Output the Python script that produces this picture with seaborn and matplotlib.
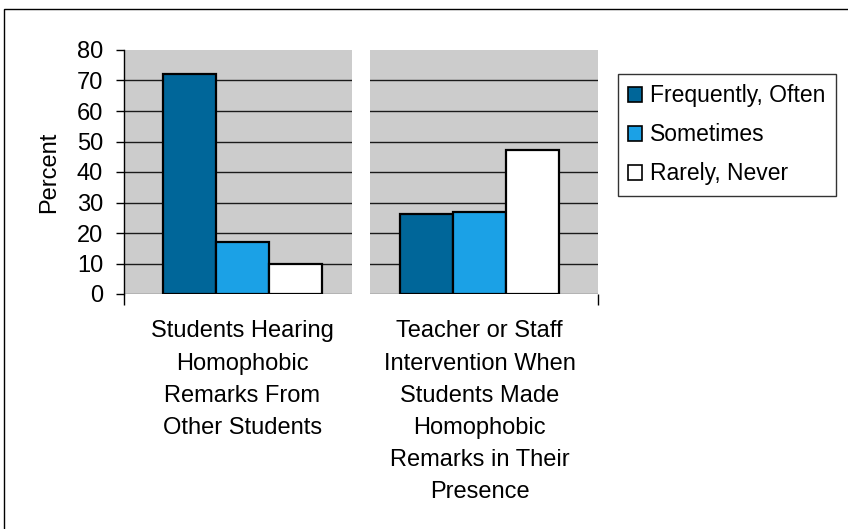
import matplotlib
matplotlib.use("Agg")
import matplotlib.pyplot as plt
from matplotlib.patches import Rectangle, Patch
import seaborn as sns
import pandas as pd

# Survey results (percent of students)
groups = [
    "Students Hearing\nHomophobic\nRemarks From\nOther Students",
    "Teacher or Staff\nIntervention When\nStudents Made\nHomophobic\nRemarks in Their\nPresence",
]
responses = ["Frequently, Often", "Sometimes", "Rarely, Never"]
hearing_remarks = [72, 17, 10]
staff_intervention = [26.2, 26.9, 47.2]
colors = ["#006699", "#1BA1E6", "#FFFFFF"]
yticks = [0, 10, 20, 30, 40, 50, 60, 70, 80]

rows = []
for grp, vals in zip(groups, [hearing_remarks, staff_intervention]):
    for resp, v in zip(responses, vals):
        rows.append({"group": grp, "response": resp, "pct": v})
df = pd.DataFrame(rows)

sns.set_theme(style="white")
plt.rcParams["font.family"] = ["Liberation Sans", "DejaVu Sans"]
plt.rcParams.update({
    "text.color": "black", "axes.labelcolor": "black",
    "xtick.color": "black", "ytick.color": "black",
})

FS = 17
W, H = 848, 529
fig = plt.figure(figsize=(W / 100, H / 100), dpi=100)
ax = fig.add_axes([124 / W, (H - 294) / H, (598 - 124) / W, (294 - 50) / H])
ax.set_facecolor("#CCCCCC")

sns.barplot(
    data=df, x="group", y="pct", hue="response", order=groups,
    hue_order=responses, palette=colors, saturation=1,
    edgecolor="black", linewidth=1.6, width=0.672, gap=0,
    ax=ax, legend=False, zorder=3,
)

ax.set_xlim(-0.5, 1.5)
ax.set_ylim(0, 80)
ax.set_yticks(yticks)

# horizontal gridlines (no line on the top edge)
for t in yticks[:-1]:
    ax.axhline(t, color="#555555" if t == 0 else "#1a1a1a", lw=1.0, zorder=0.5)
# white separator between the two category panels
ax.axvspan(0.5 - 0.036, 0.5 + 0.04, color="white", lw=0, zorder=0.8)

for s in ["top", "right", "bottom"]:
    ax.spines[s].set_visible(False)
ax.spines["left"].set_color("black")
ax.spines["left"].set_linewidth(1.0)

ax.tick_params(axis="y", which="major", direction="out", length=6, width=1,
               color="black", labelcolor="black", labelsize=FS, pad=9, left=True)
ax.tick_params(axis="x", which="major", length=0, labelsize=FS,
               labelcolor="black", pad=19)
ax.set_xticks([-0.5, 1.5], minor=True)
ax.tick_params(axis="x", which="minor", direction="out", length=8, width=1,
               color="black", bottom=True)
for lab in ax.get_xticklabels():
    lab.set_linespacing(1.6)
    lab.set_verticalalignment("top")

ax.set_xlabel("")
ax.set_ylabel("Percent", fontsize=FS, labelpad=12, color="black")

handles = [Patch(facecolor=c, edgecolor="black", linewidth=1.2) for c in colors]
leg = fig.legend(
    handles, responses, loc="upper left",
    bbox_to_anchor=(618 / W, 1 - 74 / H), bbox_transform=fig.transFigure,
    fontsize=16.5, frameon=True, fancybox=False, shadow=False,
    handlelength=0.6, handleheight=0.6, handletextpad=0.35,
    labelspacing=0.7, borderpad=0.45, borderaxespad=0,
)
leg.get_frame().set_edgecolor("black")
leg.get_frame().set_linewidth(1.0)
for txt in leg.get_texts():
    txt.set_color("black")

# outer chart border
fig.patches.append(Rectangle((3.5 / W, -0.1), 2, 1 - 8.5 / H + 0.1,
                             transform=fig.transFigure, fill=False,
                             edgecolor="black", lw=1.0))

fig.savefig("out.png", dpi=100)
